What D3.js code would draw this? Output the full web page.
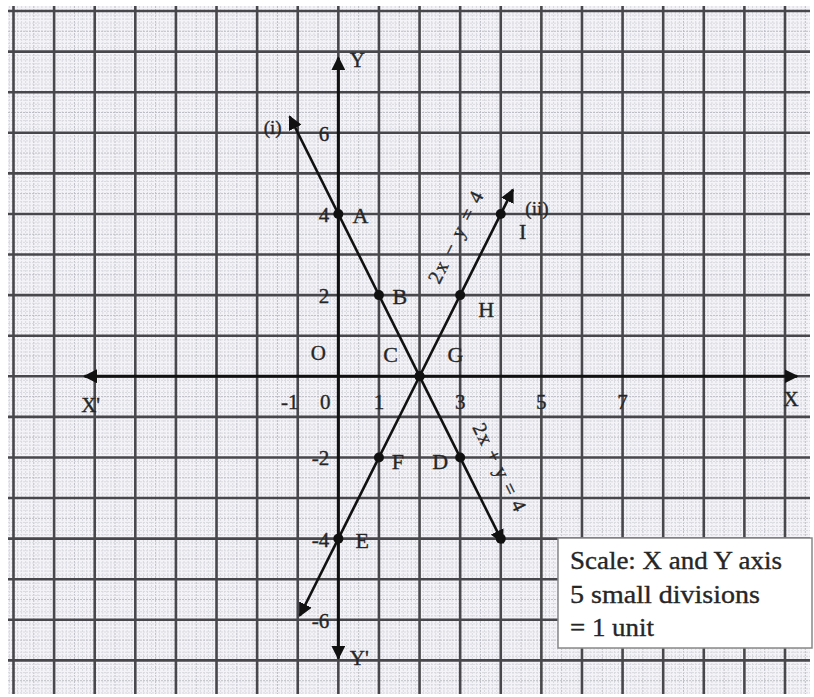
<!DOCTYPE html>
<html>
<head>
<meta charset="utf-8">
<script src="https://cdn.jsdelivr.net/npm/d3@7"></script>
<style>
  body { margin: 0; background: #fff; }
  svg { display: block; }
  text { font-family: "Liberation Serif", "DejaVu Serif", serif; fill: #262626; stroke: #262626; stroke-width: 0.35px; }
</style>
</head>
<body>
<div id="chart"></div>
<script>
// points on line (i) 2x + y = 4
var lineOnePts = [
  {name: "A", x: 0, y: 4},
  {name: "B", x: 1, y: 2},
  {name: "C", x: 2, y: 0},
  {name: "D", x: 3, y: -2},
  {name: "", x: 4, y: -4}
];
// points on line (ii) 2x - y = 4
var lineTwoPts = [
  {name: "E", x: 0, y: -4},
  {name: "F", x: 1, y: -2},
  {name: "G", x: 2, y: 0},
  {name: "H", x: 3, y: 2},
  {name: "I", x: 4, y: 4}
];
// drawn ends of the two lines (arrow tips)
var lineOneEnds = [{x: -1.2, y: 6.4}, {x: 4.05, y: -4.1}];
var lineTwoEnds = [{x: -0.95, y: -5.9}, {x: 4.3, y: 4.6}];

var xTickVals = [-1, 0, 1, 3, 5, 7];
var yTickVals = [6, 4, 2, -2, -4, -6];
var scaleNote = ["Scale: X and Y axis", "5 small divisions", "= 1 unit"];
var scaleNoteWidth = [212, 190, 84];

var W = 814, H = 697;

var svg = d3.select("#chart")
  .append("svg")
    .attr("width", W)
    .attr("height", H);

var x = d3.scaleLinear().domain([-8, 11]).range([13.5, 785]);
var y = d3.scaleLinear().domain([-8, 9]).range([701, 11]);

// paper
var paper = {x0: 8, x1: 810, y0: 6, y1: 694};
svg.append("rect")
  .attr("x", paper.x0).attr("y", paper.y0)
  .attr("width", paper.x1 - paper.x0).attr("height", paper.y1 - paper.y0)
  .attr("fill", "#f4f3f7");

svg.append("clipPath").attr("id", "paperclip")
  .append("rect")
  .attr("x", paper.x0).attr("y", paper.y0)
  .attr("width", paper.x1 - paper.x0).attr("height", paper.y1 - paper.y0);

var grid = svg.append("g").attr("clip-path", "url(#paperclip)");

// small divisions (tenths)
var fineX = d3.range(-81, 116).map(function(d){ return d / 10; }).filter(function(d){ return d * 10 % 10 != 0; });
var fineY = d3.range(-81, 91).map(function(d){ return d / 10; }).filter(function(d){ return d * 10 % 10 != 0; });

grid.selectAll(".fx").data(fineX).enter().append("line")
  .attr("x1", function(d){ return x(d); }).attr("x2", function(d){ return x(d); })
  .attr("y1", paper.y0).attr("y2", paper.y1)
  .attr("stroke", function(d){ return Math.abs(d * 10 % 5) < 0.01 ? "#bdbdc5" : "#d9d9e0"; })
  .attr("stroke-width", 1)
  .attr("stroke-dasharray", "2,1");

grid.selectAll(".fy").data(fineY).enter().append("line")
  .attr("y1", function(d){ return y(d); }).attr("y2", function(d){ return y(d); })
  .attr("x1", paper.x0).attr("x2", paper.x1)
  .attr("stroke", function(d){ return Math.abs(d * 10 % 5) < 0.01 ? "#bdbdc5" : "#d9d9e0"; })
  .attr("stroke-width", 1)
  .attr("stroke-dasharray", "2,1");

// big squares
grid.selectAll(".mx").data(d3.range(-8, 12)).enter().append("line")
  .attr("x1", function(d){ return x(d); }).attr("x2", function(d){ return x(d); })
  .attr("y1", paper.y0).attr("y2", paper.y1)
  .attr("stroke", "#48484c")
  .attr("stroke-width", 2.6);

grid.selectAll(".my").data(d3.range(-8, 10)).enter().append("line")
  .attr("y1", function(d){ return y(d); }).attr("y2", function(d){ return y(d); })
  .attr("x1", paper.x0).attr("x2", paper.x1)
  .attr("stroke", "#48484c")
  .attr("stroke-width", 2.6);

// arrow marker
var defs = svg.append("defs");
defs.append("marker")
  .attr("id", "arr")
  .attr("viewBox", "0 0 10 10")
  .attr("refX", 9).attr("refY", 5)
  .attr("markerWidth", 14).attr("markerHeight", 14)
  .attr("markerUnits", "userSpaceOnUse")
  .attr("orient", "auto-start-reverse")
  .append("path")
  .attr("d", "M0,0 L10,5 L0,10 z")
  .attr("fill", "#111");

// axes
svg.append("line")
  .attr("x1", x(-6.25)).attr("x2", x(11.3))
  .attr("y1", y(0)).attr("y2", y(0))
  .attr("stroke", "#111").attr("stroke-width", 3)
  .attr("marker-start", "url(#arr)").attr("marker-end", "url(#arr)");

svg.append("line")
  .attr("x1", x(0)).attr("x2", x(0))
  .attr("y1", y(7.85)).attr("y2", y(-6.95))
  .attr("stroke", "#111").attr("stroke-width", 3)
  .attr("marker-start", "url(#arr)").attr("marker-end", "url(#arr)");

// the two lines
var lineGen = d3.line().x(function(d){ return x(d.x); }).y(function(d){ return y(d.y); });

svg.append("path").datum(lineOneEnds)
  .attr("d", lineGen)
  .attr("fill", "none").attr("stroke", "#111").attr("stroke-width", 2.6)
  .attr("marker-start", "url(#arr)").attr("marker-end", "url(#arr)");

svg.append("path").datum(lineTwoEnds)
  .attr("d", lineGen)
  .attr("fill", "none").attr("stroke", "#111").attr("stroke-width", 2.6)
  .attr("marker-start", "url(#arr)").attr("marker-end", "url(#arr)");

// dots
svg.selectAll(".dot").data(lineOnePts.concat(lineTwoPts)).enter().append("circle")
  .attr("cx", function(d){ return x(d.x); })
  .attr("cy", function(d){ return y(d.y); })
  .attr("r", 5)
  .attr("fill", "#111");

// point letters
var letterOff = {
  A: [22, 9], B: [21, 9], C: [-29, -14], D: [-20, 12],
  E: [24, 9], F: [19, 12], G: [36, -14], H: [26, 22], I: [22, 25]
};
svg.selectAll(".lbl").data(lineOnePts.concat(lineTwoPts).filter(function(d){ return d.name; }))
  .enter().append("text")
  .attr("x", function(d){ return x(d.x) + letterOff[d.name][0]; })
  .attr("y", function(d){ return y(d.y) + letterOff[d.name][1]; })
  .attr("text-anchor", "middle")
  .attr("font-size", "22px")
  .text(function(d){ return d.name; });

// tick numbers
var xOff = {"-1": -8, "0": -13};
svg.selectAll(".xt").data(xTickVals).enter().append("text")
  .attr("x", function(d){ return x(d) + (xOff[d] || 0); })
  .attr("y", y(0) + 33)
  .attr("text-anchor", "middle")
  .attr("font-size", "21px")
  .text(function(d){ return d; });

svg.selectAll(".yt").data(yTickVals).enter().append("text")
  .attr("x", x(0) - 9)
  .attr("y", function(d){ return y(d) + 8; })
  .attr("text-anchor", "end")
  .attr("font-size", "21px")
  .text(function(d){ return d; });

// axis names
svg.append("text").attr("x", x(0) - 20).attr("y", y(0) - 16)
  .attr("text-anchor", "middle").attr("font-size", "21px").text("O");
svg.append("text").attr("x", x(0) + 19).attr("y", y(7.85) + 9)
  .attr("text-anchor", "middle").attr("font-size", "21px").text("Y");
svg.append("text").attr("x", x(0) + 21).attr("y", y(-6.95) + 7)
  .attr("text-anchor", "middle").attr("font-size", "21px").text("Y'");
svg.append("text").attr("x", x(-6.1)).attr("y", y(0) + 36)
  .attr("text-anchor", "middle").attr("font-size", "21px").text("X'");
svg.append("text").attr("x", x(11.15)).attr("y", y(0) + 30)
  .attr("text-anchor", "middle").attr("font-size", "21px").text("X");

// line names
svg.append("text").attr("x", x(lineOneEnds[0].x) - 17).attr("y", y(lineOneEnds[0].y) + 17)
  .attr("text-anchor", "middle").attr("font-size", "19px").text("(i)");
svg.append("text").attr("x", x(lineTwoEnds[1].x) + 24).attr("y", y(lineTwoEnds[1].y) + 25)
  .attr("text-anchor", "middle").attr("font-size", "19px").text("(ii)");

// equations along the lines
var ang = Math.atan2(y(2) - y(0), x(1) - x(0)) * 180 / Math.PI; // slope 2
svg.append("text")
  .attr("transform", "translate(" + (x(3.7) - 27) + "," + (y(3.4) + 2) + ") rotate(" + ang + ")")
  .attr("text-anchor", "middle")
  .attr("font-size", "20px")
  .attr("textLength", 100)
  .text("2x − y = 4");
svg.append("text")
  .attr("transform", "translate(" + (x(3.18) + 26) + "," + (y(-2.36) - 2) + ") rotate(" + (-ang) + ")")
  .attr("text-anchor", "middle")
  .attr("font-size", "20px")
  .attr("textLength", 96)
  .text("2x + y = 4");

// scale box
var box = svg.append("g").attr("transform", "translate(558,538)");
box.append("rect")
  .attr("width", 254).attr("height", 110)
  .attr("fill", "#fff").attr("stroke", "#888").attr("stroke-width", 1.5);
box.selectAll("text").data(scaleNote).enter().append("text")
  .attr("x", 12)
  .attr("y", function(d, i){ return 31 + i * 33.5; })
  .attr("font-size", "25px")
  .attr("textLength", function(d, i){ return scaleNoteWidth[i]; })
  .attr("lengthAdjust", "spacingAndGlyphs")
  .text(function(d){ return d; });
</script>
</body>
</html>
